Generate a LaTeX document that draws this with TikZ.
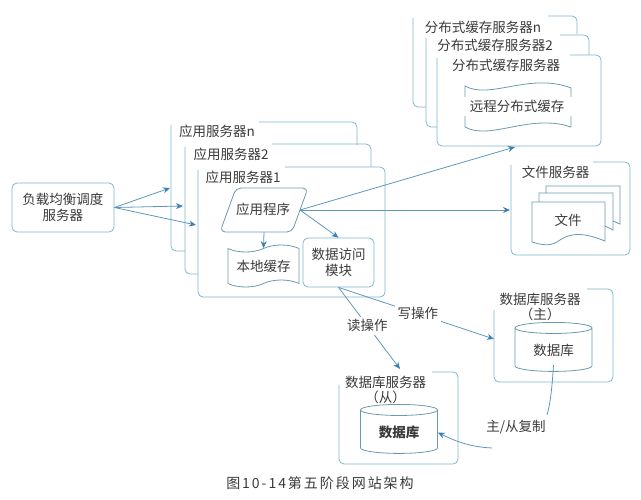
\documentclass[tikz,border=0pt]{standalone}
\usepackage{fontspec}
\setmainfont{Noto Sans CJK SC}
\newfontfamily\capfont[LetterSpace=14]{Noto Sans CJK SC}
\usepackage{xcolor}
\usepackage{tikz}
\usetikzlibrary{arrows.meta,shapes.geometric,shapes.symbols}

\definecolor{boxline}{HTML}{7FB5CC}
\definecolor{flowline}{HTML}{5F97BC}
\definecolor{flowtip}{HTML}{3F7FB0}
\definecolor{labeltext}{HTML}{3A3A3A}

\tikzset{
    outline/.style={draw=boxline, line width=0.8pt, rounded corners=5pt},
    wave/.style={draw=boxline!85!black, line width=0.8pt},
    flow/.style={draw=flowline, line width=0.8pt, -{Stealth[length=7pt,width=6pt,color=flowtip]}},
    label/.style={font=\fontsize{13.5}{15.5}\selectfont, text=labeltext, inner sep=1pt, align=center},
    gaplabel/.style={label, fill=white, inner sep=3pt},
    dbshape/.style={shape=cylinder, shape border rotate=90, aspect=0.26, draw=boxline!85!black, line width=0.8pt,
        minimum width=77pt, minimum height=49pt, inner sep=0pt, label}
}

\begin{document}
\begin{tikzpicture}[x=1pt, y=-1pt]
    \useasboundingbox (0,0) rectangle (641,500);

    % load balancer
    \node[outline, label, minimum width=102pt, minimum height=49pt] (LB) at (63, 207.5) {负载均衡调度\\服务器};

    % application servers
    \draw[outline] (259,122) -- (357,122) -- (357,145);
    \draw[outline] (171,125) -- (171,251) -- (185,251);
    \draw[outline] (272,144) -- (371,144) -- (371,167);
    \draw[outline] (185,147) -- (185,274) -- (198,274);
    \draw[outline] (285,167) -- (385,167) -- (385,297) -- (198,297) -- (198,170);
    \node[label] (appN) at (217, 131) {应用服务器n};
    \node[label] (app2) at (231, 154) {应用服务器2};
    \node[label] (app1) at (243, 177) {应用服务器1};
    \coordinate (appNin) at (170, 188);
    \coordinate (app2in) at (183, 206);
    \coordinate (app1in) at (196, 225);

    \draw[wave, rounded corners=5pt] (236,188) -- (308,188) -- (292,232) -- (220,232) -- cycle;
    \node[label] (prog) at (263, 209) {应用程序};
    \coordinate (progout) at (300, 210);
    \coordinate (proglow) at (264, 232);
    \node[shape=tape, tape bend top=in and out, tape bend bottom=in and out, tape bend height=7pt,
        draw=boxline!85!black, line width=0.8pt, label,
        minimum width=71pt, minimum height=42pt] (cache) at (263.5, 266) {本地缓存};
    \node[outline, label, minimum width=71pt, minimum height=49pt] (data) at (338.5, 262.5) {数据访问\\模块};

    % distributed cache servers
    \draw[outline] (548,16) -- (577,16) -- (577,34);
    \draw[outline] (413,18) -- (413,107) -- (426,107);
    \draw[outline] (560,35) -- (589,35) -- (589,55);
    \draw[outline] (426,38) -- (426,127) -- (437,127);
    \draw[outline] (570,55) -- (601,55) -- (601,146) -- (437,146) -- (437,58);
    \node[label] (distN) at (483, 27) {分布式缓存服务器n};
    \node[label] (dist2) at (495, 45) {分布式缓存服务器2};
    \node[label] (dist1) at (506, 65) {分布式缓存服务器};
    \node[label] (remote) at (517, 106) {远程分布式缓存};
    \draw[wave] (465,97) -- (465,86) .. controls (490,100) and (530,72) .. (571,88) -- (571,97);
    \draw[wave] (465,116) -- (465,127) .. controls (490,141) and (530,113) .. (571,127) -- (571,116);
    \coordinate (distin) at (515, 147);

    % file server
    \draw[outline] (593,162) -- (630,162) -- (630,255) -- (511,255) -- (511,165);
    \node[label] (fileTitle) at (555.5, 172) {文件服务器};
    \draw[wave] (546,193) -- (546,186) -- (620,186) -- (620,224) -- (613,221);
    \draw[wave] (539,202) -- (539,193) -- (613,193) -- (613,230) -- (605,226);
    \draw[wave] (532,202) -- (605,202) -- (605,241) .. controls (585,233) and (572,232) .. (560,240) .. controls (552,246) and (545,246) .. (532,242) -- cycle;
    \node[label] (file) at (568, 220) {文件};
    \coordinate (filein) at (510, 210);

    % databases
    \draw[outline] (587,289) -- (613,289) -- (613,382) -- (494,382) -- (494,310);
    \draw[outline] (432,372) -- (458,372) -- (458,464) -- (339,464) -- (339,385);
    \node[label] (masterTitle) at (540, 307) {数据库服务器\\（主）};
    \node[label] (slaveTitle) at (385.5, 390) {数据库服务器\\（从）};
    \node[dbshape] (dbM) at (553.5, 350.5) {数据库};
    \node[dbshape, font=\fontsize{13.5}{15.5}\selectfont\bfseries] (dbS) at (399, 432.5) {数据库};
    \coordinate (masterin) at (494, 339);
    \coordinate (slavein) at (400, 369);

    % connectors
    \draw[flow] (LB.east) -- (appNin);
    \draw[flow] (LB.east) -- (app2in);
    \draw[flow] (LB.east) -- (app1in);
    \draw[flow] (progout) -- (distin);
    \draw[flow] (progout) -- (filein);
    \draw[flow] (progout) -- (data.north);
    \draw[flow] (proglow) -- (cache.north);
    \draw[flow] (data.south) -- node[gaplabel, pos=0.51] (write) {写操作} (masterin);
    \draw[flow] (data.south) -- node[gaplabel, pos=0.47] (read) {读操作} (slavein);

    \node[label] (repl) at (516, 427) {主/从复制};
    \coordinate (replA) at (547, 415);
    \coordinate (replB) at (492, 448);
    \draw[draw=flowline, line width=0.8pt] ([yshift=7pt]dbM.south) .. controls (552,390) and (550,405) .. (replA);
    \draw[flow] (replB) .. controls (470,447) and (455,441) .. (dbS.east);

    % caption
    \node[font=\fontsize{14}{16}\selectfont\capfont, text=labeltext, inner sep=0pt] (caption) at (320, 483) {图10-14第五阶段网站架构};
\end{tikzpicture}
\end{document}
